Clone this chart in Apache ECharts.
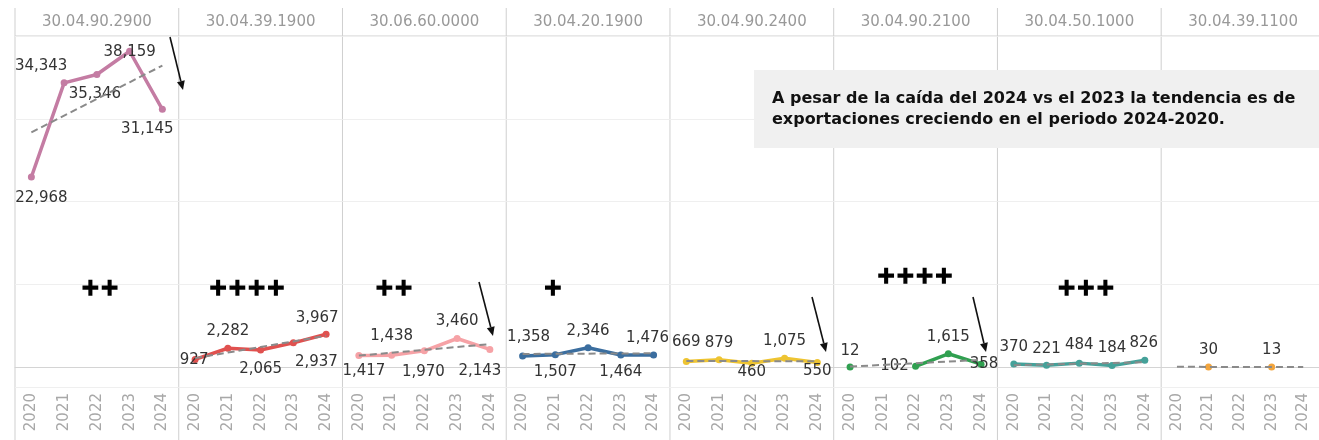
<!DOCTYPE html>
<html>
<head>
<meta charset="utf-8">
<script src="https://cdn.jsdelivr.net/npm/echarts@6/dist/echarts.min.js"></script>
<style>
  html, body { margin: 0; padding: 0; background: #fff; }
  #chart { width: 1319px; height: 440px; }
</style>
</head>
<body>
<div id="chart"></div>
<script>
// datos
const years = ['2020', '2021', '2022', '2023', '2024']
const codes = ['30.04.90.2900', '30.04.39.1900', '30.06.60.0000', '30.04.20.1900',
  '30.04.90.2400', '30.04.90.2100', '30.04.50.1000', '30.04.39.1100']
const values902900 = [22968, 34343, 35346, 38159, 31145]
const values391900 = [927, 2282, 2065, 2937, 3967]
const values600000 = [1417, 1438, 1970, 3460, 2143]
const values201900 = [1358, 1507, 2346, 1464, 1476]
const values902400 = [669, 879, 460, 1075, 550]
const values902100 = [12, null, 102, 1615, 358]
const values501000 = [370, 221, 484, 184, 826]
const values391100 = [null, 30, null, 13, null]
const plusMarks = ['++', '++++', '++', '+', '', '++++', '+++', '']
const note = ['A pesar de la caída del 2024 vs el 2023 la tendencia es de',
  'exportaciones creciendo en el periodo 2024-2020.']

const panels = [values902900, values391900, values600000, values201900,
  values902400, values902100, values501000, values391100]

// estilos
const colors = ['#c47ca3', '#e0514f', '#f6a2a6', '#3b6e9f', '#eec432', '#30a050', '#45a199', '#f2a53e']
const labelOffsets = [
  [[10, 21], [-23, -17], [-2, 20], [0, 1], [-15, 20]],
  [[-1, 1], [0, -17], [0, 19], [23, 19], [-9, -16]],
  [[5, 16], [0, -19], [-1, 21], [0, -17], [-10, 22]],
  [[6, -19], [0, 17], [0, -17], [0, 17], [-6, -17]],
  [[0, -19], [0, -17], [0, 9], [0, -17], [0, 9]],
  [[0, -16], [0, 0], [-21, 0], [0, -17], [3, 0]],
  [[0, -17], [0, -16], [0, -18], [0, -17], [-1, -17]],
  [[0, 0], [0, -17], [0, 0], [0, -17], [0, 0]]
]
const plusPos = [[100, 289], [247, 289], [394, 289], [553, 289], null, [915, 277], [1086, 289], null]
const arrows = [[170, 37, 183, 90], [479, 282, 493, 336], [812, 297, 826, 352], [973, 297, 986, 352]]

const LEFT = 15
const PW = 163.74
const TOP = 36
const H = 351
const FONT = 'DejaVu Sans'

// linea de tendencia (minimos cuadrados)
function trend(vals) {
  const pts = vals.map((v, i) => [i, v]).filter(p => p[1] != null)
  const mx = pts.reduce((s, p) => s + p[0], 0) / pts.length
  const my = pts.reduce((s, p) => s + p[1], 0) / pts.length
  let num = 0, den = 0
  pts.forEach(p => { num += (p[0] - mx) * (p[1] - my); den += (p[0] - mx) * (p[0] - mx) })
  const slope = den ? num / den : 0
  return years.map((_, i) => my + slope * (i - mx))
}

function arrow(a) {
  const [x1, y1, x2, y2] = a
  const ang = Math.atan2(y2 - y1, x2 - x1)
  const L = 9, W = 4
  const bx = x2 - L * Math.cos(ang), by = y2 - L * Math.sin(ang)
  const px = -Math.sin(ang) * W, py = Math.cos(ang) * W
  return [
    { type: 'line', z: 20, shape: { x1: x1, y1: y1, x2: bx, y2: by }, style: { stroke: '#111', lineWidth: 1.6 } },
    { type: 'polygon', z: 20, shape: { points: [[x2, y2], [bx + px, by + py], [bx - px, by - py]] }, style: { fill: '#111' } }
  ]
}

const chart = echarts.init(document.getElementById('chart'))

const grid = [], xAxis = [], yAxis = [], series = []
const graphic = []

panels.forEach((vals, i) => {
  grid.push({ left: LEFT + i * PW, top: TOP, width: PW, height: H })
  xAxis.push({
    type: 'category', gridIndex: i, data: years, boundaryGap: true,
    axisLine: { show: true, lineStyle: { color: '#d4d4d4' } },
    axisTick: { show: false },
    axisLabel: { rotate: 90, color: '#a8a8a8', fontSize: 15, fontFamily: FONT, margin: 6 }
  })
  yAxis.push({
    type: 'value', gridIndex: i, min: -2400, max: 40000,
    axisLine: { show: false }, axisTick: { show: false }, axisLabel: { show: false },
    splitLine: { lineStyle: { color: '#efefef' } }
  })
  series.push({
    type: 'line', xAxisIndex: i, yAxisIndex: i,
    data: vals.map((v, j) => v == null ? '-' : { value: v, label: { offset: labelOffsets[i][j] } }),
    symbol: 'circle', symbolSize: 7, showAllSymbol: true,
    lineStyle: { width: 3.5, color: colors[i] },
    itemStyle: { color: colors[i] },
    label: {
      show: true, position: 'inside', fontSize: 15, fontFamily: FONT, color: '#333',
      formatter: p => p.value.toLocaleString('en-US')
    },
    z: 2,
    animation: false
  })
  series.push({
    type: 'line', xAxisIndex: i, yAxisIndex: i, data: trend(vals),
    symbol: 'none', silent: true,
    lineStyle: { width: 2, color: '#8a8a8a', type: [7, 4] },
    z: 3,
    animation: false
  })
  // encabezado
  graphic.push({
    type: 'text', x: LEFT + i * PW + PW / 2, y: 22,
    style: { text: codes[i], fill: '#999', font: '15px "' + FONT + '"', textAlign: 'center', textVerticalAlign: 'middle', align: 'center', verticalAlign: 'middle' }
  })
  graphic.push({
    type: 'line', shape: { x1: LEFT + i * PW, y1: 8, x2: LEFT + i * PW, y2: 440 },
    style: { stroke: '#cfcfcf', lineWidth: 1 }
  })
  if (plusPos[i]) {
    graphic.push({
      type: 'text', x: plusPos[i][0], y: plusPos[i][1], z: 15,
      style: { text: plusMarks[i], fill: '#000', stroke: '#000', lineWidth: 1.4, font: 'bold 23px "' + FONT + '"', textAlign: 'center', textVerticalAlign: 'middle', align: 'center', verticalAlign: 'middle' }
    })
  }
})

graphic.push({ type: 'line', shape: { x1: LEFT, y1: TOP, x2: 1319, y2: TOP }, style: { stroke: '#cfcfcf', lineWidth: 1 } })
graphic.push({ type: 'rect', z: 10, shape: { x: 754, y: 70, width: 565, height: 78 }, style: { fill: '#f0f0f0' } })
note.forEach((t, k) => {
  graphic.push({
    type: 'text', z: 11, x: 772, y: 99 + k * 21,
    style: { text: t, fill: '#111', font: 'bold 16px "' + FONT + '"', textVerticalAlign: 'middle', verticalAlign: 'middle' }
  })
})
arrows.forEach(a => { arrow(a).forEach(g => graphic.push(g)) })

chart.setOption({
  animation: false,
  grid: grid,
  xAxis: xAxis,
  yAxis: yAxis,
  series: series,
  graphic: graphic
})
</script>
</body>
</html>
